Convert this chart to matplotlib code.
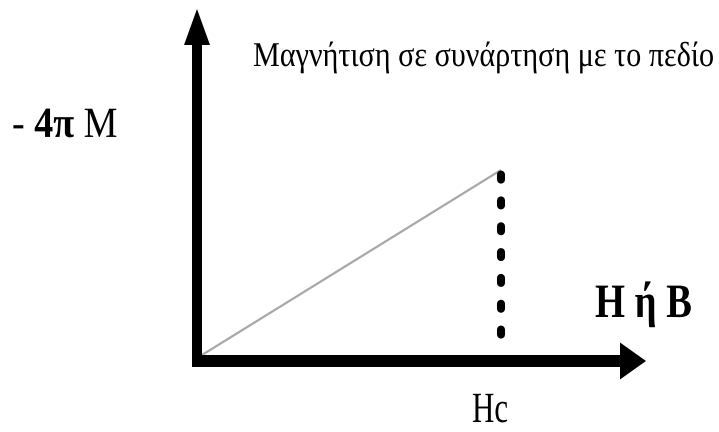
import matplotlib
matplotlib.use("Agg")
import matplotlib.pyplot as plt
from matplotlib.patheffects import AbstractPathEffect
from matplotlib.text import Text
from matplotlib.transforms import Affine2D, Bbox

plt.rcParams['font.family'] = ['Liberation Serif', 'DejaVu Serif']
plt.rcParams['mathtext.fontset'] = 'custom'
plt.rcParams['mathtext.rm'] = 'Liberation Serif'
plt.rcParams['mathtext.bf'] = 'Liberation Serif:bold'
plt.rcParams['lines.scale_dashes'] = False

# -4piM against the applied field: linear rise up to the critical field Hc
field = [0.0, 1.0]
magnetisation = [0.0, 1.0]

title = "Μαγνήτιση σε συνάρτηση με το πεδίο"
ylabel = r"- $\mathbf{4π}$ M"
xlabel = "H ή B"
hc_label = "Hc"

hc = field[-1]
m_c = magnetisation[-1]


class Squeeze(AbstractPathEffect):
    """Draw text narrowed horizontally about a fixed display x."""

    def __init__(self, sx, anchor):
        super().__init__()
        self.sx = sx
        self.anchor = anchor

    def draw_path(self, renderer, gc, tpath, affine, rgbFace=None):
        a = self.anchor
        narrow = Affine2D().translate(-a, 0).scale(self.sx, 1).translate(a, 0)
        renderer.draw_path(gc, tpath, affine + narrow, rgbFace)


class NarrowText(Text):
    """Text drawn at a fraction of its natural width."""

    sx = 1.0
    anchor = 0.0

    def get_window_extent(self, renderer=None, dpi=None):
        bb = super().get_window_extent(renderer, dpi)
        a, s = self.anchor, self.sx
        return Bbox([[a + (bb.x0 - a) * s, bb.y0], [a + (bb.x1 - a) * s, bb.y1]])


W, H = 719, 432
fig = plt.figure(figsize=(W / 100, H / 100), dpi=100)
ax = fig.add_axes([0, 0, 1, 1])
ax.axis('off')

# pixels per unit along each axis, and where the origin sits
kx, ky = 299.0, 185.0
ox, oy = 202.0, 355.0
ax.set_xlim(-ox / kx, (W - ox) / kx)
ax.set_ylim(-(H - oy) / ky, oy / ky)


def dx(n):
    return n / kx


def dy(n):
    return n / ky


# the curve and the drop at Hc
ax.plot(field, magnetisation, color='#a8a8a8', lw=1.6, solid_capstyle='butt', zorder=2)
ax.plot([hc, hc], [m_c, 0], color='k', lw=5.8, linestyle=(15.3, (3.6, 15.0)),
        dash_capstyle='round', zorder=2)

# axes drawn as thick arrows
ax.arrow(dx(-5), dy(-12), 0, dy(358), width=dx(10), head_width=dx(26),
         head_length=dy(36), length_includes_head=True, color='k', lw=0, zorder=3)
ax.arrow(dx(-10), dy(-6), dx(454), 0, width=dy(12), head_width=dy(37),
         head_length=dx(26), length_includes_head=True, color='k', lw=0, zorder=3)


def label(s, x, y, size, width, weight='normal', ha='left'):
    t = NarrowText(x / W, 1 - y / H, s, ha=ha, va='baseline',
                   fontsize=size, fontweight=weight, transform=fig.transFigure)
    fig.add_artist(t)
    ext = Text.get_window_extent(t, renderer=fig.canvas.get_renderer())
    t.sx = width / ext.width
    t.anchor = float(x)
    t.set_path_effects([Squeeze(t.sx, t.anchor)])
    return t


label(title, 715, 66, 25, 462, ha='right')
label(ylabel, 12, 137, 31, 106)
label(xlabel, 595, 317, 34.5, 97, weight='bold')
label(hc_label, 472, 422, 31, 36)

fig.savefig("out.png", dpi=100)
